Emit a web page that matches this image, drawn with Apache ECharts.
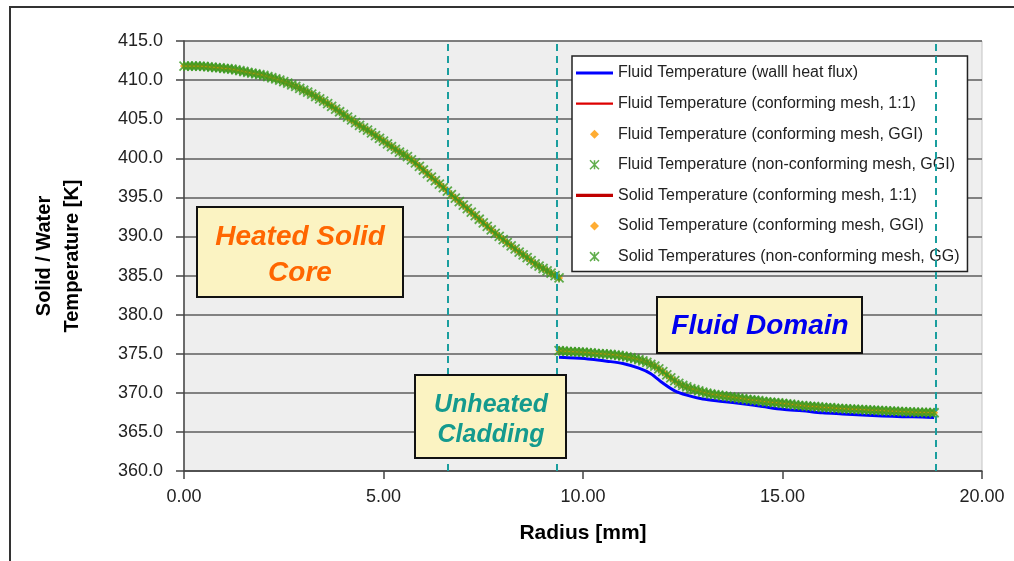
<!DOCTYPE html>
<html>
<head>
<meta charset="utf-8">
<script src="https://cdn.jsdelivr.net/npm/echarts@6/dist/echarts.min.js"></script>
<style>
html,body{margin:0;padding:0;background:#fff;}
#chart{width:1014px;height:561px;}
</style>
</head>
<body>
<div id="chart"></div>
<script>
// ---- data ----
const solidRadius = [0.0,0.1,0.2,0.3,0.4,0.5,0.6,0.7,0.8,0.9,1.0,1.1,1.2,1.3,1.4,1.5,1.6,1.7,1.8,1.9,2.0,2.1,2.2,2.3,2.4,2.5,2.6,2.7,2.8,2.9,3.0,3.1,3.2,3.3,3.4,3.5,3.6,3.7,3.8,3.9,4.0,4.1,4.2,4.3,4.4,4.5,4.6,4.7,4.8,4.9,5.0,5.1,5.2,5.3,5.4,5.5,5.6,5.7,5.8,5.9,6.0,6.1,6.2,6.3,6.4,6.5,6.6,6.7,6.8,6.9,7.0,7.1,7.2,7.3,7.4,7.5,7.6,7.7,7.8,7.9,8.0,8.1,8.2,8.3,8.4,8.5,8.6,8.7,8.8,8.9,9.0,9.1,9.2,9.3,9.4];
const solidTemp = [411.8,411.8,411.8,411.8,411.8,411.75,411.7,411.65,411.6,411.55,411.5,411.45,411.4,411.3,411.2,411.1,411.0,410.9,410.8,410.7,410.6,410.45,410.3,410.15,410.0,409.8,409.6,409.4,409.2,408.95,408.7,408.45,408.2,407.9,407.6,407.3,407.0,406.65,406.3,405.95,405.6,405.25,404.9,404.55,404.2,403.9,403.6,403.25,402.9,402.55,402.2,401.85,401.5,401.15,400.8,400.5,400.2,399.8,399.4,398.95,398.5,398.05,397.6,397.15,396.7,396.25,395.8,395.35,394.9,394.45,394.0,393.55,393.1,392.65,392.2,391.75,391.3,390.85,390.4,390.0,389.6,389.2,388.8,388.4,388.0,387.65,387.3,386.9,386.5,386.2,385.9,385.6,385.3,385.0,384.7];

const fluidRadius = [9.4,9.5,9.6,9.7,9.8,9.9,10.0,10.1,10.2,10.3,10.4,10.5,10.6,10.7,10.8,10.9,11.0,11.1,11.2,11.3,11.4,11.5,11.6,11.7,11.8,11.9,12.0,12.1,12.2,12.3,12.4,12.5,12.6,12.7,12.8,12.9,13.0,13.1,13.2,13.3,13.4,13.5,13.6,13.7,13.8,13.9,14.0,14.1,14.2,14.3,14.4,14.5,14.6,14.7,14.8,14.9,15.0,15.1,15.2,15.3,15.4,15.5,15.6,15.7,15.8,15.9,16.0,16.1,16.2,16.3,16.4,16.5,16.6,16.7,16.8,16.9,17.0,17.1,17.2,17.3,17.4,17.5,17.6,17.7,17.8,17.9,18.0,18.1,18.2,18.3,18.4,18.5,18.6,18.7,18.8];
const fluidTemp = [375.4,375.35,375.3,375.27,375.25,375.22,375.2,375.15,375.1,375.05,375.0,374.97,374.95,374.9,374.85,374.78,374.7,374.6,374.5,374.38,374.25,374.1,373.9,373.65,373.4,373.05,372.7,372.3,371.9,371.55,371.2,370.95,370.75,370.55,370.4,370.25,370.1,369.97,369.85,369.77,369.7,369.62,369.55,369.47,369.4,369.32,369.25,369.17,369.1,369.05,369.0,368.92,368.85,368.8,368.75,368.7,368.65,368.6,368.55,368.47,368.4,368.35,368.3,368.27,368.25,368.2,368.15,368.12,368.1,368.05,368.0,367.97,367.95,367.92,367.9,367.87,367.85,367.82,367.8,367.77,367.75,367.72,367.7,367.67,367.65,367.62,367.6,367.57,367.55,367.52,367.5,367.5,367.5,367.47,367.45];

const wallFluxRadius = [9.4,9.8,10.2,10.6,11.0,11.4,11.7,12.0,12.3,12.6,13.0,13.5,14.0,14.5,15.0,15.5,16.0,16.5,17.0,17.5,18.0,18.5,18.8];
const wallFluxTemp = [374.55,374.45,374.3,374.05,373.75,373.15,372.45,371.25,370.25,369.7,369.2,368.9,368.6,368.25,367.9,367.7,367.45,367.3,367.15,367.05,366.95,366.9,366.85];

const regionBoundaries = [6.6, 9.35, 18.85];

const seriesNames = [
  'Fluid Temperature (walll heat flux)',
  'Fluid Temperature (conforming mesh, 1:1)',
  'Fluid Temperature (conforming mesh, GGI)',
  'Fluid Temperature (non-conforming mesh, GGI)',
  'Solid Temperature (conforming mesh, 1:1)',
  'Solid Temperature (conforming mesh, GGI)',
  'Solid Temperatures (non-conforming mesh, GG)'
];
const annotationTexts = ['Heated Solid\nCore', 'Unheated\nCladding', 'Fluid Domain'];

// ---- chart ----
const pairs = (xs, ys) => xs.map((x, i) => [x, ys[i]]);
const FONT = "'Liberation Sans', Arial, sans-serif";
const BLUE = '#0000ff', RED = '#dd0000', DARKRED = '#c00000', ORANGE = '#ff9900', GREEN = '#3a9a20', TEAL = '#1a9e9e';
const STAR = 'path://M0,0L10,10M10,0L0,10M5,0L5,10';
const DIAMOND = 'path://M5,0L10,5L5,10L0,5Z';

const chart = echarts.init(document.getElementById('chart'));
chart.setOption({
  animation: false,
  backgroundColor: '#ffffff',
  textStyle: { fontFamily: FONT },
  grid: { left: 184, right: 32, top: 41, bottom: 90, show: true, backgroundColor: '#eeeeee', borderColor: '#c4c4c4', borderWidth: 1 },
  xAxis: {
    type: 'value', min: 0, max: 20, interval: 5,
    name: 'Radius [mm]', nameLocation: 'middle', nameGap: 52,
    nameTextStyle: { fontSize: 21, fontWeight: 'bold', color: '#000', fontFamily: FONT },
    axisLine: { show: true, onZero: false, lineStyle: { color: '#444', width: 1.5 } },
    axisTick: { show: true, length: 8, lineStyle: { color: '#444', width: 1.5 } },
    axisLabel: { fontSize: 18, color: '#222', margin: 17, formatter: v => v.toFixed(2) },
    splitLine: { show: false }
  },
  yAxis: {
    type: 'value', min: 360, max: 415, interval: 5,
    name: 'Solid / Water\nTemperature [K]', nameLocation: 'middle', nameGap: 98, nameRotate: 90,
    nameTextStyle: { fontSize: 20, fontWeight: 'bold', color: '#000', lineHeight: 28, fontFamily: FONT },
    axisLine: { show: true, lineStyle: { color: '#444', width: 1.5 } },
    axisTick: { show: true, length: 8, lineStyle: { color: '#444', width: 1.5 } },
    axisLabel: { fontSize: 18, color: '#222', margin: 21, formatter: v => v.toFixed(1) },
    splitLine: { show: true, lineStyle: { color: '#5c5c5c', width: 1.5 } }
  },
  legend: {
    left: 572, top: 56, orient: 'vertical',
    itemWidth: 37, itemHeight: 9, itemGap: 14.6,
    padding: [9, 8, 7, 4],
    backgroundColor: '#ffffff', borderColor: '#222', borderWidth: 1.5,
    textStyle: { fontSize: 16, color: '#222', fontFamily: FONT },
    selectedMode: false,
    data: [
      { name: seriesNames[0], icon: 'path://M0,0L40,0L40,3.5L0,3.5Z', itemStyle: { color: BLUE, borderWidth: 0 } },
      { name: seriesNames[1], icon: 'path://M0,0L40,0L40,2.5L0,2.5Z', itemStyle: { color: RED, borderWidth: 0 } },
      { name: seriesNames[2], icon: DIAMOND, itemStyle: { color: ORANGE, borderWidth: 0 } },
      { name: seriesNames[3], icon: STAR, itemStyle: { color: GREEN, borderColor: GREEN, borderWidth: 1.5 } },
      { name: seriesNames[4], icon: 'path://M0,0L40,0L40,3.5L0,3.5Z', itemStyle: { color: DARKRED, borderWidth: 0 } },
      { name: seriesNames[5], icon: DIAMOND, itemStyle: { color: ORANGE, borderWidth: 0 } },
      { name: seriesNames[6], icon: STAR, itemStyle: { color: GREEN, borderColor: GREEN, borderWidth: 1.5 } }
    ]
  },
  series: [
    {
      name: seriesNames[0], type: 'line', z: 1, data: pairs(wallFluxRadius, wallFluxTemp),
      symbol: 'none', smooth: 0.3, color: BLUE, lineStyle: { color: BLUE, width: 3 },
      markLine: {
        silent: true, symbol: 'none', label: { show: false },
        lineStyle: { color: TEAL, width: 2, type: [7, 5] },
        data: regionBoundaries.map(x => ({ xAxis: x }))
      }
    },
    { name: seriesNames[1], type: 'line', z: 1, data: pairs(fluidRadius, fluidTemp), symbol: 'none', color: RED, lineStyle: { color: RED, width: 2 } },
    { name: seriesNames[2], type: 'scatter', z: 3, data: pairs(fluidRadius, fluidTemp), symbol: 'diamond', symbolSize: 8, color: ORANGE, itemStyle: { color: ORANGE } },
    { name: seriesNames[3], type: 'scatter', z: 4, data: pairs(fluidRadius, fluidTemp), symbol: STAR, symbolSize: 9, color: GREEN, itemStyle: { color: GREEN, borderColor: GREEN, borderWidth: 1.8 } },
    { name: seriesNames[4], type: 'line', z: 1, data: pairs(solidRadius, solidTemp), symbol: 'none', color: DARKRED, lineStyle: { color: DARKRED, width: 3 } },
    { name: seriesNames[5], type: 'scatter', z: 3, data: pairs(solidRadius, solidTemp), symbol: 'diamond', symbolSize: 8, color: ORANGE, itemStyle: { color: ORANGE } },
    { name: seriesNames[6], type: 'scatter', z: 4, data: pairs(solidRadius, solidTemp), symbol: STAR, symbolSize: 9, color: GREEN, itemStyle: { color: GREEN, borderColor: GREEN, borderWidth: 1.8 } }
  ],
  graphic: [
    { type: 'rect', z: 200, silent: true, shape: { x: 10, y: 7, width: 1200, height: 700 }, style: { fill: 'none', stroke: '#333', lineWidth: 2 } },
    { type: 'rect', z: 100, shape: { x: 197, y: 207, width: 206, height: 90 }, style: { fill: '#fbf3c2', stroke: '#111', lineWidth: 2 } },
    { type: 'text', z: 101, x: 300, y: 255, style: { text: annotationTexts[0], align: 'center', verticalAlign: 'middle', fill: '#ff6600', font: "italic bold 28px 'Liberation Sans', Arial, sans-serif", lineHeight: 36 } },
    { type: 'rect', z: 100, shape: { x: 415, y: 375, width: 151, height: 83 }, style: { fill: '#fbf3c2', stroke: '#111', lineWidth: 2 } },
    { type: 'text', z: 101, x: 491, y: 420, style: { text: annotationTexts[1], align: 'center', verticalAlign: 'middle', fill: '#149a8e', font: "italic bold 25px 'Liberation Sans', Arial, sans-serif", lineHeight: 30 } },
    { type: 'rect', z: 100, shape: { x: 657, y: 297, width: 205, height: 56 }, style: { fill: '#fbf3c2', stroke: '#111', lineWidth: 2 } },
    { type: 'text', z: 101, x: 760, y: 326, style: { text: annotationTexts[2], align: 'center', verticalAlign: 'middle', fill: '#0000ee', font: "italic bold 28px 'Liberation Sans', Arial, sans-serif" } }
  ]
});
</script>
</body>
</html>
